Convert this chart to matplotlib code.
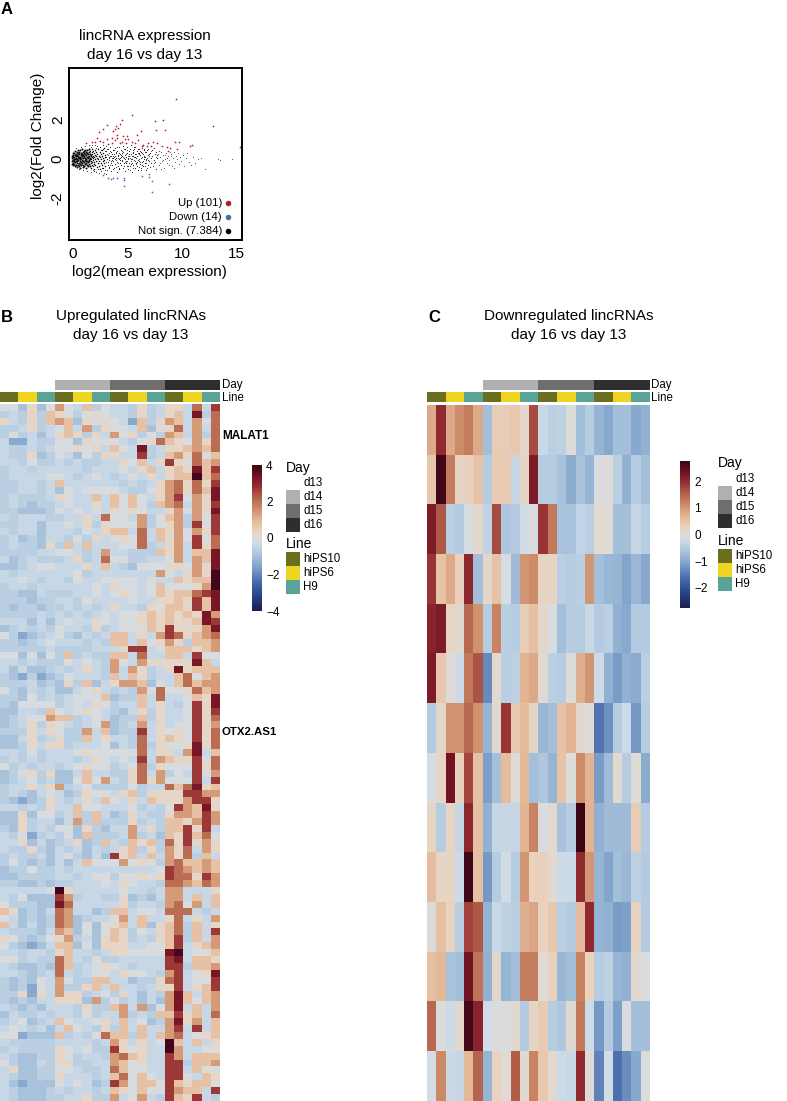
'lincRNA MA plot and the two heatmaps'

import numpy as np
import matplotlib
matplotlib.use('Agg')
import matplotlib.pyplot as plt
from matplotlib.colors import LinearSegmentedColormap, ListedColormap

plt.rcParams['font.family'] = ['Liberation Sans', 'DejaVu Sans']
plt.rcParams['axes.unicode_minus'] = False

W, H = 787, 1101

# panel A, points (log2 mean, log2 fold change)
up_points = [(9.45,3.08),(5.43,2.24),(4.48,2.02),(4.33,1.81),(4.0,1.7),(3.1,1.74),(2.74,1.54),(2.44,1.4),
             (3.87,1.54),(4.18,1.6),(3.66,1.42),(7.53,1.97),(8.3,1.98),(7.6,1.5),(8.45,1.47),(12.87,1.68),
             (2.2,1.08),(3.1,1.03),(3.57,1.08),(4.02,1.25),(4.63,1.2),(4.94,1.16),(5.1,1.03),(5.9,1.25),
             (6.25,1.42),(1.22,.82),(1.74,.9),(2.5,.94),(2.8,.9),(3.87,1.0),(4.48,.9),(4.88,.82),(5.4,.9),
             (5.7,.82),(6.0,.99),(6.46,.73),(6.9,.82),(7.38,.85),(7.68,.82),(9.36,.85),(9.76,.9),(8.14,.65),
             (8.6,.6),(8.9,.56),(9.5,.51),(10.9,.72),(10.75,.65),(15.3,.6),(6.77,.65),(6.3,.68),(4.33,.82),
             (3.57,.82),(3.2,.79),(2.04,.9),(4.03,1.08),(4.8,1.03),(7.13,.65),(8.75,.39)]
down_points = [(3.26,-.97),(3.48,-1.0),(3.72,-.97),(4.09,-.97),(4.73,-.97),(4.7,-1.06),(4.7,-1.37),(6.3,-.89),
               (7.0,-.75),(6.98,-.92),(7.3,-1.11),(8.84,-1.28),(7.22,-1.71),(2.8,-.8)]

ns_core = [(-.1,.05),(-.08,-.12),(-.06,.18),(-.05,-.25),(0,.3),(0,-.05),(.02,.12),(.03,-.18),(.05,-.32),(.06,.22),
           (.08,.02),(.1,-.1),(.12,.33),(.13,-.24),(.15,.1),(.17,-.38),(.18,.2),(.2,-.02),(.22,.42),(.23,-.15),
           (.25,.28),(.27,.06),(.28,-.3),(.3,.14),(.32,-.08),(.34,.36),(.35,-.2),(.37,.02),(.39,-.42),(.4,.22),
           (.42,-.12),(.44,.47),(.45,.1),(.47,-.28),(.49,.3),(.5,-.04),(.52,.16),(.54,-.35),(.55,.38),(.57,-.18),
           (.59,.06),(.6,.25),(.62,-.1),(.64,-.46),(.65,.12),(.67,.44),(.69,-.25),(.7,.02),(.72,.32),(.74,-.14),
           (.75,.2),(.77,-.32),(.79,.08),(.8,.5),(.82,-.05),(.84,.27),(.85,-.22),(.87,.14),(.89,-.4),(.9,.36),
           (.92,-.1),(.94,.04),(.95,.22),(.97,-.28),(.99,.42),(1.0,.1),(1.02,-.16),(1.04,.3),(1.05,-.36),(1.07,.18),
           (1.09,-.04),(1.1,.48),(1.12,-.24),(1.14,.08),(1.15,.26),(1.17,-.12),(1.19,.38),(1.2,-.44),(1.22,.02),(1.24,.2),
           (1.25,-.2),(1.27,.33),(1.29,-.08),(1.3,.12),(1.32,-.3),(1.34,.45),(1.35,.04),(1.37,-.16),(1.39,.24),(1.4,-.38),
           (1.42,.1),(1.44,.34),(1.45,-.06),(1.47,-.26),(1.49,.18),(1.5,.52),(1.52,-.12),(1.54,.06),(1.55,-.34),(1.57,.28)]
ns_shoulder = [(1.59,-.02),(1.6,.4),(1.62,-.2),(1.64,.14),(1.65,-.46),(1.67,.22),(1.69,-.1),(1.7,.02),(1.72,.36),(1.74,-.28),
               (1.75,.12),(1.77,.5),(1.79,-.14),(1.8,.26),(1.82,-.38),(1.84,.06),(1.85,.18),(1.87,-.06),(1.89,.42),(1.9,-.24),
               (1.92,.1),(1.94,.3),(1.95,-.16),(1.97,-.5),(1.99,.2),(2.0,-.02),(2.03,.46),(2.06,-.3),(2.09,.14),(2.12,-.1),
               (2.15,.34),(2.18,-.42),(2.21,.06),(2.24,.24),(2.27,-.2),(2.3,.54),(2.33,.0),(2.36,-.34),(2.39,.16),(2.42,-.08),
               (2.45,.38),(2.48,-.52),(2.51,.1),(2.54,-.18),(2.57,.28),(2.6,.02),(2.63,-.3),(2.66,.46),(2.69,.18),(2.72,-.12),
               (2.75,-.44),(2.78,.08),(2.81,.32),(2.84,-.22),(2.87,.58),(2.9,-.04),(2.93,.2),(2.96,-.36),(2.99,.12)]
ns_fringe = [(.3,.55),(.6,-.52),(.75,.6),(.95,-.58),(1.1,.66),(1.3,-.62),(1.45,.7),(1.62,-.66),(1.75,.74),(1.9,-.6),
             (2.02,.72),(2.14,-.68),(2.26,.66),(2.38,-.72),(2.5,.62),(2.6,-.62),(2.72,.7),(2.85,-.7),(2.95,.42),(3.05,-.74),
             (1.7,.6),(1.85,-.55),(2.1,.58),(2.32,-.5),(2.55,.48),(2.65,-.44),(2.8,.5),(2.92,-.56),(3.0,.66),(3.14,.52),
             (3.18,-.16),(3.22,.22),(3.28,-.44),(3.33,.06),(3.4,.4),(3.44,-.3),(3.48,.18),(3.55,-.06),(3.62,.28),(3.66,-.5),
             (3.73,.1),(3.77,.46),(3.84,-.24),(3.88,.16),(3.95,-.06),(3.99,.36),(4.06,.6),(4.14,-.2),(4.17,.14),(4.21,-.46),
             (4.25,.32),(4.32,.04),(4.39,-.28),(4.43,.22),(4.47,-.1),(4.54,.42),(4.58,.1),(4.65,-.36),(4.69,.52),(4.76,.0),
             (4.8,-.14),(4.87,.26),(4.94,.44),(4.98,-.08),(5.05,.14),(5.09,-.34),(5.16,.28),(5.2,-.56),(5.27,.5),(5.31,-.02),
             (5.38,.18),(5.42,-.2),(5.49,.32),(5.53,-.44),(5.6,.1),(5.64,.6),(5.71,-.1),(5.75,.28),(5.82,-.26),(5.86,.14),
             (5.93,.52),(5.97,-.04),(6.04,-.4),(6.08,.24),(6.15,.42),(6.19,-.16),(6.24,.06),(6.28,-.58),(6.36,.3),(6.4,-.08),
             (6.48,.52),(6.52,.12),(6.58,-.34),(6.62,.36),(6.68,.0),(6.72,-.18),(6.78,.44),(6.82,-.44),(6.88,.22),(6.92,-.04)]
ns_mid = [(3.02,.4),(3.05,-.14),(3.09,-.56),(3.12,.02),(3.16,.26),(3.2,-.28),(3.24,.5),(3.27,.1),(3.31,-.06),(3.35,-.42),
          (3.38,.18),(3.42,.62),(3.46,-.2),(3.49,.34),(3.53,-.6),(3.57,.04),(3.6,-.32),(3.64,.44),(3.68,.14),(3.71,-.1),
          (3.75,.24),(3.79,-.48),(3.82,.56),(3.86,-.02),(3.9,-.24),(3.93,.3),(3.97,.08),(4.01,-.68),(4.04,-.14),(4.08,.42),
          (4.12,.2),(4.15,-.36),(4.19,.6),(4.23,.0),(4.26,-.52),(4.3,.28),(4.34,-.18),(4.37,.1),(4.41,.48),(4.45,-.3),
          (4.48,.16),(4.52,-.06),(4.56,.66),(4.59,-.44),(4.63,.36),(4.67,.04),(4.7,-.22),(4.74,.22),(4.78,-.62),(4.81,.52),
          (4.85,-.1),(4.89,.12),(4.92,-.34),(4.96,.3),(5.0,.6),(5.03,-.02),(5.07,-.5),(5.11,.18),(5.14,-.2),(5.18,.42),
          (5.22,.08),(5.25,-.38),(5.29,.7),(5.33,.26),(5.36,-.12),(5.4,-.66),(5.44,.02),(5.47,.36),(5.51,-.28),(5.55,.14),
          (5.58,.54),(5.62,-.06),(5.66,-.44),(5.69,.24),(5.73,.62),(5.77,-.18),(5.8,.06),(5.84,.4),(5.88,-.34),(5.91,.16),
          (5.95,-.56),(5.99,.3),(6.02,-.08),(6.06,.5),(6.1,.02),(6.14,-.24),(6.18,.2),(6.22,-.48),(6.26,.38),(6.3,.1),
          (6.34,-.14),(6.38,.58),(6.42,-.36),(6.46,.26),(6.5,-.02),(6.55,.44),(6.6,-.2),(6.65,.12),(6.7,-.54),(6.75,.34),
          (6.8,.04),(6.85,-.28),(6.9,.5),(6.95,.18),(7.0,-.1),(7.05,-.42),(7.1,.3),(7.15,.06),(7.2,-.22),(7.25,.46),
          (7.3,.14),(7.35,-.34),(7.4,.56),(7.45,-.04),(7.5,.24),(7.55,-.16),(7.6,.38),(7.65,-.5),(7.7,.08),(7.75,.2),
          (3.08,.12),(3.3,.3),(3.5,-.12),(3.7,.06),(3.92,-.42),(4.1,.06),(4.3,-.04),(4.5,.3),(4.72,.08),(4.9,-.18),
          (5.1,.06),(5.3,-.26),(5.5,.46),(5.7,.1),(5.9,-.14),(6.1,.32),(6.3,-.3),(6.5,.16),(6.7,-.06),(7.0,.28)]
ns_outer = [(7.85,-.3),(7.95,.1),(8.05,.36),(8.15,-.12),(8.25,.22),(8.35,-.44),(8.45,.02),(8.55,.3),(8.65,-.22),(8.75,.14),
            (8.85,-.06),(8.95,.26),(9.05,-.36),(9.15,.08),(9.25,.34),(9.35,-.16),(9.45,.18),(9.55,-.02),(9.65,.3),(9.75,-.26),
            (9.85,.1),(9.95,-.1),(10.1,.22),(10.2,-.38),(10.35,.06),(10.5,.3),(10.65,-.14),(10.8,-.3),(11.0,.12),(11.2,-.22),
            (11.45,.0),(11.7,.04),(12.1,-.5),(13.3,.02),(13.45,-.05),(14.6,-.02),(8.1,-.5),(8.9,.38),(9.3,-.45),(7.9,.42),
            (7.2,.42),(7.42,-.22),(7.62,.12),(7.82,.28),(8.02,-.2),(8.22,-.04),(8.42,.2),(8.62,.06),(8.82,-.32),(9.02,.16)]

# panel B, one letter per cell, 101 genes x 24 samples
level_values = {'a': -1.45, 'b': -.95, 'c': -.65, 'd': -.38, 'e': -.08, 'f': .28,
                'g': .75, 'h': 1.4, 'i': 2.05, 'j': 2.7, 'k': 3.3, 'l': 3.9}
up_rows = [
    "eebfbe hedgce ddcfcd ffdidj", "cdcfcg fecefe ddcfcd fgdkci", "fdcfcg hgbfef edagcf hgdhei",
    "ccdfcd egdhcf eedgbe fidhdi", "cecdbd fgfcfd hefcec hgdhci", "daadcc eebfee edcefi gfehfi",
    "dccdcd eefefd gedkcd ffghgi", "dccfbc edbecf fddjcd ghfieg", "ddcecc dcdccd dfegdf jfeigh",
    "cddcdd dddcdd dedfgd fgfkgj", "cdddde edcded cdedfd fgglgi", "ccddcd gddddd dcdcdf hififj",
    "ccddcd bedeee edccef hifigk", "cdcccd feddgd gegedf hjehfk", "cdcbcc deddfd gegecg hidhfj",
    "ccbbbc ededed fefedd fhehfk", "dcdddc cddfdi eedhce ghchej", "ccddbd dedfcf eeehce fhcjej",
    "dcddbd ddcedf ggdidg fhehfj", "cdbcbd dcecfd efeidg fhejei", "cdccbf cgdgdd deeicd fhdjfi",
    "ccccdd eedcdh ddcccg fhdggk", "dbcdcc cdfcdi eeccdd ehdhgk", "bbcdee dddfdg dcbeee ffehfk",
    "dcdddd ddecdd dddddh edfhfl", "ddedcd dcedde eeeded dgfggl", "cddcdd dddded feedeg eeefhl",
    "ccbbdc ccdded efedeg fggijk", "cccbcc ddcedd ddeddf fgfjgk", "cbccbc cdcdcd fddcfe ggfjgk",
    "ccccdc dcdcde deefgf gfgfkh", "dddbdb deddfe deefgf gffgkj", "bcdcdc eddcfc deeegf jfffhk",
    "ecabcd ecbdcd ggdfdh jifghi", "ccbcde dddcdc ggdgef hfcggh", "cccccd ccccdd dfjjde gggfgh",
    "eebebe cgcdcc ggdidd ggdjee", "ddcdcc cededc hedhff fffkgd", "dbdbbc dcdfdc hdhfcd fkfggg",
    "cbacab cedddc gdgfcd dgiegh", "cccdbc bfcgbd fhhgbe dgighh", "ecbdcd bbdefd cdchei eefigh",
    "ccbecd cdeeeg bccgdi ddegfk", "cbeeee cdedfe cddgdf dcejfk", "bbddcg edefed cbdfcf ddejfj",
    "bcdeeh ggcded bccgcf ddejfi", "bcdfcf edcdeh bcdhdf deejfh", "cccfdf ecchdg bccjdf efejfi",
    "bbdfcd fccgdf ddcidf gfejfi", "bbcfdf fcddde bdcicf eefkfi", "ddcecd ddefee eeeidf fdhkdg",
    "cdcdcd ddcdfe dedjdh gffjei", "ecdcdd cdefee cdeicf eeejfi", "bcefcf bbdgdd ccfidh cedjeh",
    "bcdecd bbegeh dcfifh eeejdj", "cddfdf hcdecc ccecdd igikfg", "cdcbde dbcfee dfgcff ffjjhh",
    "cbabcf dcdfdg edfdgf ffhjjf", "ddcdcf ddgeed ddecdc ejhgkf", "bbfbee cdgcgd bcfdcc fhhgjh",
    "bbfcdd bdhcgc ccfcdc ggfhjh", "cbfcdc eebfcb ddhdfc ggjfjd", "dceacd cebgcc cdhcdb gfjgie",
    "ddfbdb cdfbcg dcgfgc ifjfhf", "dccfcb dcdbdc dfgcfc hfidhf", "cdccdb decbdb jfgdgd hficgd",
    "cecbcb dbdgee ehefec higghg", "bccecc dcdddd ddddde jihghg", "bbcccc ddcdee ceefef jiifjh",
    "ccbbcb ccddde dfeddc iihgih", "ddddde lfdddd deddcd hhdddf", "dcebbb jhcddc cfbcbd hhdgdg",
    "ecccbb kidddd dfcddc hiehdg", "gfbcbd ihddbc ggdeed iiidcd", "edbcbc ihbcdd ehdgdd fidfdh",
    "gdbdbc ihbebe fgdgbf gicgdf", "dcccbd hgbebe gfcedf gicgdj", "fecbce fhcdbf gfcdcf gjcgdh",
    "ecbabd ggbebf ffddee gjdfgh", "ddcddc fgddcd ffeeee kldeeg", "eecdcc igdcec cddddd jkdggf",
    "dcbbcb igcdef edcddd jjcggh", "ddcbcd idcdee dfeedc hjdefk", "cbcbed heccgg ddbccf ijdeej",
    "cbcaed hccfgd gddcdf fjdfgj", "ccfafd hffcde cfdbdc hkgdgh", "cbcbdd fffbhc ecdbdb hkgegh",
    "dcbcbd ddcfcc ghdhbe hkdgdh", "bdccdc ddcecd dhcdcg gjfgdi", "cdebcd geddef dgdebc hkfhdg",
    "dedcdb dgedcf cgdgdd hjdjdg", "eeabbb gcdcei ggcgdg hidefg", "dccccc ddddcd hfdfde lgdgdf",
    "cdcccc fedecc jfefdd lhddee", "dcbbcc fecddc higfdd jhdggg", "ecbbdc ffccdd hgefdd jjcggh",
    "dfbbcc eedccd igeedd jjdgee", "dcbbcc fdddcd gieged jjedgf", "dbabbb ededbc jhegge jgfgge",
    "dcbbbc dcddcd gfegee jhggdj", "dcbbbc cddfcc hdehdc jgfjdc",
]

# panel C, 14 genes x 24 samples
down_values = [
    [.8,2.0,.8,1.1,1.25,.8,-.7,.35,.35,.45,.15,1.7,-.25,-.45,-.4,0,-.7,-.5,-.85,-1.0,-.7,-.7,-1.0,-.9],
    [.45,2.7,1.25,.2,.3,.5,-.5,.4,.4,-.3,.2,2.2,-.5,-.5,-.65,-.95,-.65,-.85,-.05,0,-.45,-.9,-.5,-.7],
    [2.2,1.6,-.45,-.55,-.1,.15,-.35,1.7,-.6,-.55,-.15,-.05,1.9,1.3,-.65,-.65,-.35,-.45,.12,.05,-.7,-.7,-.3,-.5],
    [1.9,.5,.8,.3,2.05,-.7,.15,.5,-.1,-.75,1.0,1.1,.2,.2,-.45,-.5,-.45,1.0,-.7,-.8,-.85,-1.05,-.8,-1.0],
    [2.1,2.2,.2,.1,1.45,1.05,-.5,1.2,-.45,-.5,.35,.55,.15,-.05,-.7,-.5,-.5,-.25,-.55,-.45,-.9,-1.0,-.55,-.55],
    [2.2,.45,.05,-.2,1.3,1.65,-1.35,.1,-.45,-.4,.7,.8,.1,-.45,-.5,0,.75,1.0,-.2,-.9,-1.15,-.9,-.95,-.45],
    [-.55,.15,1.05,1.05,1.45,1.05,-.85,.1,1.9,.45,.6,.2,-.8,-.7,.5,.7,.15,0,-1.55,-1.25,-.5,-.2,-1.2,-.5],
    [-.1,.2,2.3,.3,1.75,.55,-1.1,-.7,.6,.02,.65,-.7,-.6,-.85,.5,-.02,1.1,.7,-1.15,-.75,.1,-.5,.03,-.95],
    [.2,-.5,.2,-.3,2.05,.55,-.9,-.3,-.3,-.3,.7,1.2,-.05,.1,-.65,-.5,2.75,.7,-.9,-.75,-.75,-.75,.35,-.5],
    [.6,.2,.2,-.2,2.7,.55,-1.2,-.5,-.15,-.5,1.0,.3,.3,.1,-.2,-.2,2.0,1.0,-.85,-1.05,-.7,-.8,-.4,-.55],
    [.02,.55,.25,-.45,1.8,1.6,-.85,-.25,-.4,-.45,.75,.85,.3,.45,-.45,-.55,.6,2.0,-.85,-.9,-1.15,-1.1,.25,-.55],
    [.55,.65,-.65,-.7,2.3,1.35,-.9,.15,-.85,-.7,1.25,1.25,.05,.3,-.8,-.7,1.2,.3,-.5,-.4,-.85,-.9,.12,-.05],
    [1.45,-.03,-.2,.15,2.65,2.1,-.15,-.03,-.03,.07,-.55,.2,.4,-.5,-.6,.08,1.3,-.2,-1.2,-.55,-1.1,-.05,-.7,-.7],
    [-.12,1.15,-.22,-.3,.65,1.5,-.85,.25,.05,1.55,.07,1.2,.45,.1,-.2,-.25,2.0,.02,-1.4,-.15,-1.6,-1.3,-1.0,-.03],
]

day_names = ['d13', 'd14', 'd15', 'd16']
day_colors = ['#ffffff', '#b0b0b0', '#6e6e6e', '#2e2e2e']
line_names = ['hiPS10', 'hiPS6', 'H9']
line_colors = ['#6b6e1f', '#efd520', '#5aa397']
sample_day = [0]*6 + [1]*6 + [2]*6 + [3]*6
sample_line = [0, 0, 1, 1, 2, 2] * 4

heat_cmap = LinearSegmentedColormap.from_list('heat', [
    (0, '#1a1f4e'), (.12, '#2f4a8f'), (.2, '#4a6bad'), (.3, '#7fa2c9'), (.4, '#b3cae0'),
    (.47, '#d0dde8'), (.5, '#dddcda'), (.55, '#ead3bf'), (.62, '#e4b998'), (.7, '#cf8d6b'),
    (.78, '#b3604a'), (.86, '#952c33'), (.93, '#6e1022'), (1, '#3a0616')])


def add_axes_px(fig, x0, y0, x1, y1):
    ax = fig.add_axes([x0/W, 1 - y1/H, (x1 - x0)/W, (y1 - y0)/H])
    return ax


def draw_heatmap(fig, values, vmax, x0, x1, y0):
    # annotation strips and the matrix below them
    ax = add_axes_px(fig, x0, 380, x1, 390)
    ax.imshow([sample_day], aspect='auto', cmap=ListedColormap(day_colors), vmin=0, vmax=3, interpolation='nearest')
    ax.axis('off')
    ax = add_axes_px(fig, x0, 392, x1, 402)
    ax.imshow([sample_line], aspect='auto', cmap=ListedColormap(line_colors), vmin=0, vmax=2, interpolation='nearest')
    ax.axis('off')
    ax = add_axes_px(fig, x0, y0, x1, H)
    ax.imshow(values, aspect='auto', cmap=heat_cmap, vmin=-vmax, vmax=vmax, interpolation='nearest')
    ax.axis('off')


def draw_colorbar(fig, vmax, ticks, x0, x1, y0, y1):
    ax = add_axes_px(fig, x0, y0, x1, y1)
    ax.imshow(np.linspace(vmax, -vmax, 256)[:, None], aspect='auto', cmap=heat_cmap,
              vmin=-vmax, vmax=vmax, extent=[0, 1, -vmax, vmax])
    ax.set_xticks([])
    ax.yaxis.tick_right()
    ax.set_yticks(ticks)
    ax.set_yticklabels([str(t).replace('-', '\u2212') for t in ticks], fontsize=8.5)
    ax.tick_params(axis='y', length=0, pad=3)
    for s in ax.spines.values():
        s.set_visible(False)


def draw_legend(over, x0, y_day, y_swatch_day, y_line, y_swatch_line):
    sw = 14
    over.text(x0, y_day, 'Day', fontsize=10, va='center', ha='left')
    for i, name in enumerate(day_names):
        y = y_swatch_day + (i - 1)*sw
        if i > 0:
            over.add_patch(plt.Rectangle((x0, y), sw, sw, fc=day_colors[i], ec='none'))
        over.text(x0 + 17, y + sw/2, name, fontsize=8.3, va='center', ha='left')
    over.text(x0, y_line, 'Line', fontsize=10, va='center', ha='left')
    for i, name in enumerate(line_names):
        y = y_swatch_line + i*sw
        over.add_patch(plt.Rectangle((x0, y), sw, sw, fc=line_colors[i], ec='none'))
        over.text(x0 + 17, y + sw/2, name, fontsize=8.3, va='center', ha='left')


def main():
    fig = plt.figure(figsize=(W/100, H/100), dpi=100)

    # panel A
    ax = add_axes_px(fig, 69, 68, 242, 240)
    for pts, color, size in [(ns_outer, '#555555', .5), (ns_mid, '#222222', .7), (ns_fringe, '#222222', .6),
                             (ns_shoulder, '#000000', 1.1), (ns_core, '#000000', 2.0),
                             (up_points, '#b01c2e', 1.5), (down_points, '#4a6ea8', 1.5)]:
        arr = np.array(pts)
        ax.scatter(arr[:, 0], arr[:, 1], s=size, c=color, linewidths=0)
    ax.set_xlim(-.35, 15.5)
    ax.set_ylim(-4.15, 4.67)
    ax.set_xticks([0, 5, 10, 15])
    ax.set_yticks([-2, 0, 2])
    ax.tick_params(length=0, labelsize=11, pad=3)
    ax.tick_params(axis='x', pad=5)
    plt.setp(ax.get_yticklabels(), rotation=90, va='center')
    for s in ax.spines.values():
        s.set_linewidth(1.4)

    # panels B and C
    up_matrix = [[level_values[c] for c in row.replace(' ', '')] for row in up_rows]
    draw_heatmap(fig, up_matrix, 4, 0, 219.4, 404)
    draw_heatmap(fig, down_values, 2.75, 427, 649, 405)
    draw_colorbar(fig, 4, [-4, -2, 0, 2, 4], 252, 262, 465, 611)
    draw_colorbar(fig, 2.75, [-2, -1, 0, 1, 2], 680, 690, 461, 608)

    # text layer in pixel coordinates
    over = fig.add_axes([0, 0, 1, 1], facecolor='none')
    over.set_xlim(0, W)
    over.set_ylim(H, 0)
    over.axis('off')

    over.text(145, 36, 'lincRNA expression', fontsize=11, ha='center', va='center')
    over.text(145, 55, 'day 16 vs day 13', fontsize=11, ha='center', va='center')
    over.text(149, 272, 'log2(mean expression)', fontsize=11, ha='center', va='center')
    over.text(38, 136, 'log2(Fold Change)', fontsize=11, ha='center', va='center', rotation=90)
    for y, label, color in [(203, 'Up (101)', '#b01c2e'), (217, 'Down (14)', '#4a6ea8'), (231, 'Not sign. (7.384)', '#000000')]:
        over.text(222, y, label, fontsize=8.2, ha='right', va='center')
        over.plot([228], [y], 'o', ms=4, color=color, mew=0)

    for x, y, letter in [(1, 9, 'A'), (1, 317, 'B'), (428, 317, 'C')]:
        over.text(x, y, letter, fontsize=12, fontweight='bold', ha='left', va='center')
    for xc, lines in [(131, ['Upregulated lincRNAs', 'day 16 vs day 13']), (569, ['Downregulated lincRNAs', 'day 16 vs day 13'])]:
        over.text(xc, 316, lines[0], fontsize=11, ha='center', va='center')
        over.text(xc, 335, lines[1], fontsize=11, ha='center', va='center')
    for x in [222, 651]:
        over.text(x, 385, 'Day', fontsize=8.3, ha='left', va='center')
        over.text(x, 398, 'Line', fontsize=8.3, ha='left', va='center')
    over.text(222, 436, 'MALAT1', fontsize=8.5, fontweight='bold', ha='left', va='center')
    over.text(222, 732, 'OTX2.AS1', fontsize=8.2, fontweight='bold', ha='left', va='center')

    draw_legend(over, 286, 468, 490, 544, 552)
    draw_legend(over, 718, 463, 486, 541, 549)

    fig.savefig('out.png', dpi=100)


if __name__ == '__main__':
    main()
